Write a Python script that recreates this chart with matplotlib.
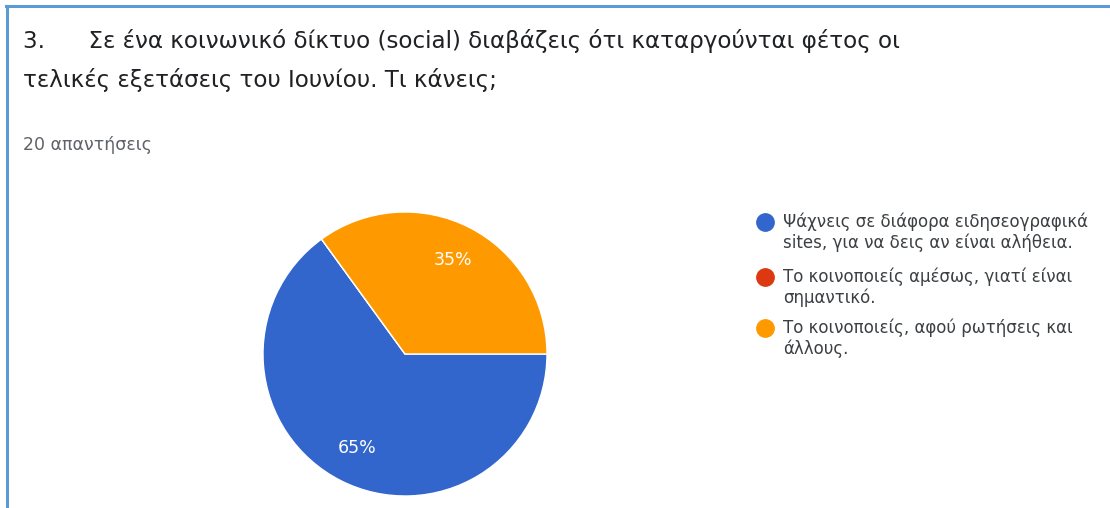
import matplotlib.pyplot as plt
from matplotlib.lines import Line2D

plt.rcParams['font.family'] = ['DejaVu Sans']

# données
titre = ["3.      Σε ένα κοινωνικό δίκτυο (social) διαβάζεις ότι καταργούνται φέτος οι",
         "τελικές εξετάσεις του Ιουνίου. Τι κάνεις;"]
reponses = "20 απαντήσεις"
categories = [
    "Ψάχνεις σε διάφορα ειδησεογραφικά\nsites, για να δεις αν είναι αλήθεια.",
    "Το κοινοποιείς αμέσως, γιατί είναι\nσημαντικό.",
    "Το κοινοποιείς, αφού ρωτήσεις και\nάλλους.",
]
valeurs = [13, 0, 7]
couleurs = ['#3366cc', '#dc3912', '#ff9900']

W, H = 1110, 508
fig = plt.figure(figsize=(W / 100, H / 100), dpi=100)

def fy(y):
    # pixels depuis le haut -> fraction de figure
    return 1 - y / H

# bordure bleue (haut et gauche seulement)
bleu_bord = '#5b9bd5'
fig.add_artist(Line2D([6 / W, 1], [fy(5.5), fy(5.5)], color=bleu_bord, lw=2.2,
                      transform=fig.transFigure))
fig.add_artist(Line2D([6.5 / W, 6.5 / W], [0, fy(5.5)], color=bleu_bord, lw=2.2,
                      transform=fig.transFigure))

# titre + nombre de réponses
fig.text(23 / W, fy(48), titre[0], fontsize=16.6, color='#202124', va='baseline')
fig.text(23 / W, fy(87), titre[1], fontsize=16.6, color='#202124', va='baseline')
fig.text(23 / W, fy(150), reponses, fontsize=12.5, color='#5f6368', va='baseline')

# camembert
cx, cy, r = 405, 354, 142
ax = fig.add_axes([(cx - r) / W, (H - cy - r) / H, 2 * r / W, 2 * r / H])

def pct(p):
    return f"{p:.0f}%" if p > 0 else ""

wedges, _, autotexts = ax.pie(valeurs, colors=couleurs, startangle=0, counterclock=False,
                              autopct=pct, pctdistance=0.74,
                              wedgeprops=dict(edgecolor='white', linewidth=1))
for t in autotexts:
    t.set_color('white')
    t.set_fontsize(12.5)
ax.set_xlim(-1, 1)
ax.set_ylim(-1, 1)
ax.set_aspect('equal')
ax.axis('off')

# légende (dessinée à la main pour aligner le rond sur la 1re ligne)
y_items = [222, 277, 328]
for lab, c, y in zip(categories, couleurs, y_items):
    fig.add_artist(Line2D([765 / W], [fy(y)], marker='o', markersize=12.5,
                          color=c, transform=fig.transFigure))
    for k, ligne in enumerate(lab.split('\n')):
        fig.text(783 / W, fy(y + 5 + k * 21), ligne, fontsize=12, color='#3c4043',
                 va='baseline')

fig.savefig('out.png', dpi=100)
